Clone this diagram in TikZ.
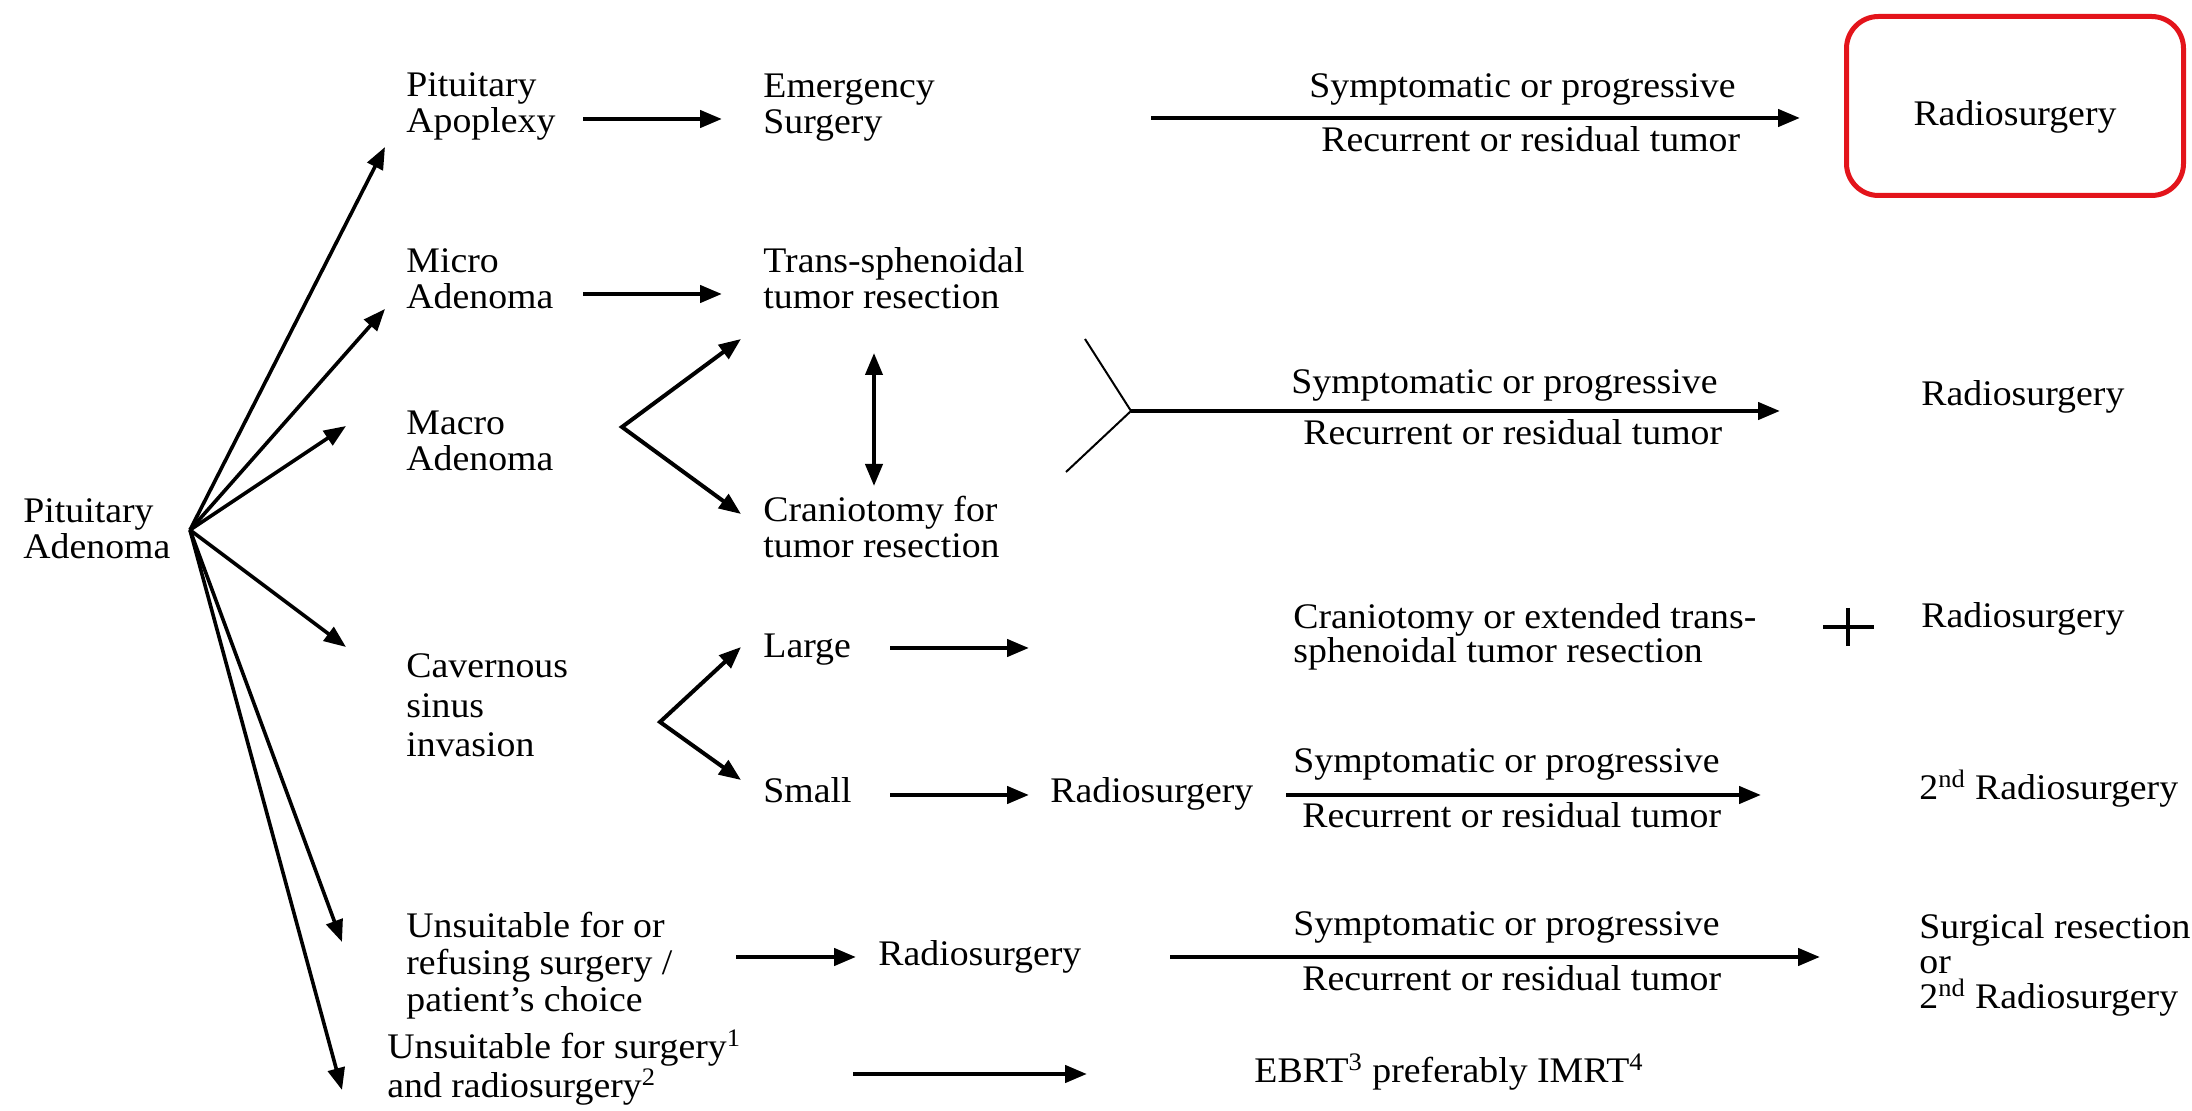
\documentclass[tikz,border=0pt]{standalone}
\usepackage{fontspec}
\setmainfont{Liberation Serif}[FakeStretch=1.05]
\usetikzlibrary{arrows.meta}
\definecolor{boxred}{HTML}{E3141B}
\begin{document}
\begin{tikzpicture}[x=0.5pt,y=-0.5pt,
  txt/.style={anchor=base west, inner sep=0pt, align=left, font=\fontsize{18}{18}\selectfont},
  tip/.style={-{Triangle[length=11pt,width=8.5pt]}},
  arr/.style={line width=2.2pt, tip},
  fanarr/.style={line width=1.8pt, tip},
  vee/.style={line width=2pt, {Triangle[length=11pt,width=8.5pt]}-{Triangle[length=11pt,width=8.5pt]}},
  bracketline/.style={line width=1pt},
  redbox/.style={draw=boxred, line width=2.5pt, rounded corners=16pt, minimum width=168.5pt, minimum height=89.5pt, inner sep=0pt, text height=24pt, text depth=4pt, font=\fontsize{18}{18}\selectfont}
]
\useasboundingbox (0,0) rectangle (2192,1111);

% ---- text nodes (multi-line nodes are placed at the baseline of their last line) ----
\node[txt] (root) at (23,559) {Pituitary\\Adenoma};
\node[txt] (apo) at (406,133) {Pituitary\\Apoplexy};
\node[txt] (micro) at (406,309) {Micro\\Adenoma};
\node[txt] (macro) at (406,471) {Macro\\Adenoma};
\node[txt, font=\fontsize{18}{19.75}\selectfont] (cav) at (406,757) {Cavernous\\sinus\\invasion};
\node[txt, font=\fontsize{18}{18.5}\selectfont] (uns) at (406,1012) {Unsuitable for or\\refusing surgery /\\patient's choice};
\node[txt, font=\fontsize{18}{19.5}\selectfont] (uns2) at (387,1098) {Unsuitable for surgery\textsuperscript{1}\\and radiosurgery\textsuperscript{2}};
\node[txt] (emerg) at (763,134) {Emergency\\Surgery};
\node[txt] (trans) at (763,309) {Trans-sphenoidal\\tumor resection};
\node[txt] (cranio) at (763,558) {Craniotomy for\\tumor resection};
\node[txt] (large) at (763,658) {Large};
\node[txt] (small) at (763,803) {Small};
\node[txt] (rsSmall) at (1050,803) {Radiosurgery};
\node[txt] (rsUns) at (878,966) {Radiosurgery};
\node[txt, font=\fontsize{18}{17.25}\selectfont] (ext) at (1293,663) {Craniotomy or extended trans-\\sphenoidal tumor resection};
\node[txt] (rsLarge) at (1921,628) {Radiosurgery};
\node[txt] (rsMacro) at (1921,406) {Radiosurgery};
\node[txt] (rs2nd) at (1919,800) {2\textsuperscript{nd} Radiosurgery};
\node[txt, font=\fontsize{18}{17.75}\selectfont] (surg) at (1919,1009) {Surgical resection\\or\\2\textsuperscript{nd} Radiosurgery};
\node[txt] (ebrt) at (1254,1083) {EBRT\textsuperscript{3} preferably IMRT\textsuperscript{4}};
\node[redbox] (rsBox) at (2015,106) {Radiosurgery};

\node[txt] (s1) at (1309,97.5) {Symptomatic or progressive};
\node[txt] (r1) at (1321,152) {Recurrent or residual tumor};
\node[txt] (s2) at (1291,394) {Symptomatic or progressive};
\node[txt] (r2) at (1303,445) {Recurrent or residual tumor};
\node[txt] (s3) at (1293,773) {Symptomatic or progressive};
\node[txt] (r3) at (1302,828) {Recurrent or residual tumor};
\node[txt] (s4) at (1293,936) {Symptomatic or progressive};
\node[txt] (r4) at (1302,991) {Recurrent or residual tumor};

% ---- connector end points ----
\coordinate (fan) at (190,530);
\coordinate (toApo) at (385,147);
\coordinate (toMicro) at (385,309);
\coordinate (toMacro) at (346,426);
\coordinate (toCav) at (346,647);
\coordinate (toUns) at (342,942);
\coordinate (toUns2) at (342,1090);

\coordinate (apoOut) at (583,119);
\coordinate (emergIn) at (722,119);
\coordinate (microOut) at (583,294);
\coordinate (transIn) at (722,294);

\coordinate (macroV) at (622,427);
\coordinate (macroUp) at (741,339);
\coordinate (macroDn) at (741,514);
\coordinate (dblTop) at (874,353);
\coordinate (dblBot) at (874,486);

\coordinate (brUp) at (1085,339);
\coordinate (brV) at (1131,411);
\coordinate (brDn) at (1066,472);
\coordinate (macroEnd) at (1780,411);

\coordinate (topStart) at (1151,118);
\coordinate (topEnd) at (1800,118);

\coordinate (cavV) at (660,722);
\coordinate (cavUp) at (741,647);
\coordinate (cavDn) at (741,780);
\coordinate (largeOut) at (890,648);
\coordinate (largeEnd) at (1029,648);
\coordinate (smallOut) at (890,795);
\coordinate (smallEnd) at (1029,795);
\coordinate (rsSmallOut) at (1286,795);
\coordinate (rsSmallEnd) at (1761,795);

\coordinate (unsOut) at (736,957);
\coordinate (unsEnd) at (856,957);
\coordinate (rsUnsOut) at (1170,957);
\coordinate (rsUnsEnd) at (1820,957);

\coordinate (uns2Out) at (853,1074);
\coordinate (uns2End) at (1087,1074);

% ---- connectors ----
\draw[fanarr] (fan) -- (toApo);
\draw[fanarr] (fan) -- (toMicro);
\draw[fanarr] (fan) -- (toMacro);
\draw[fanarr] (fan) -- (toCav);
\draw[fanarr] (fan) -- (toUns);
\draw[fanarr] (fan) -- (toUns2);

\draw[arr] (apoOut) -- (emergIn);
\draw[arr] (microOut) -- (transIn);
\draw[vee] (macroUp) -- (macroV) -- (macroDn);
\draw[vee] (dblTop) -- (dblBot);

\draw[bracketline] (brUp) -- (brV) -- (brDn);
\draw[arr] (brV) -- (macroEnd);
\draw[arr] (topStart) -- (topEnd);

\draw[vee] (cavUp) -- (cavV) -- (cavDn);
\draw[arr] (largeOut) -- (largeEnd);
\draw[arr] (smallOut) -- (smallEnd);
\draw[arr] (rsSmallOut) -- (rsSmallEnd);

\draw[arr] (unsOut) -- (unsEnd);
\draw[arr] (rsUnsOut) -- (rsUnsEnd);
\draw[arr] (uns2Out) -- (uns2End);

% plus sign
\draw[line width=2.2pt] (1823,627) -- (1874,627) (1848,608) -- (1848,646);
\end{tikzpicture}
\end{document}
